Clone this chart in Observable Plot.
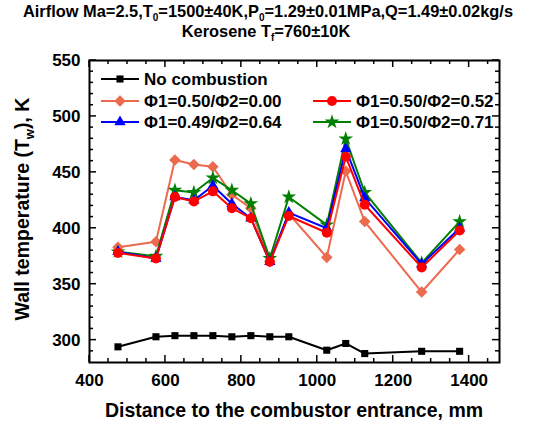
<!DOCTYPE html>
<html><head><meta charset="utf-8">
<script src="https://cdn.jsdelivr.net/npm/d3@7"></script>
<script src="https://cdn.jsdelivr.net/npm/@observablehq/plot@0.6"></script>
<style>
body{margin:0;background:#fff}
#chart svg text{font-family:"Liberation Sans",Arial,sans-serif;font-weight:bold}
</style>
</head><body><div id="chart"></div>
<script>
const distance = [475, 575, 625, 675, 725, 775, 825, 875, 925, 1025, 1075, 1125, 1275, 1375];
const noCombustion = [294, 303, 304, 304, 304, 303, 304, 303, 303, 291, 297, 288, 290, 290];
const phi050_000 = [383, 388, 461, 457, 455, 430, 418, 370, 413, 374, 451, 406, 343, 381];
const phi050_052 = [378, 373, 428, 424, 433, 418, 409, 370, 411, 396, 464, 421, 365, 398];
const phi049_064 = [379, 373, 428, 425, 438, 422, 409, 370, 414, 400, 471, 427, 368, 400];
const phi050_071 = [379, 375, 434, 432, 445, 434, 422, 373, 428, 403, 480, 432, 369, 406];
const seriesNames = ["No combustion", "Φ1=0.50/Φ2=0.00", "Φ1=0.50/Φ2=0.52", "Φ1=0.49/Φ2=0.64", "Φ1=0.50/Φ2=0.71"];
const seriesValues = [noCombustion, phi050_000, phi050_052, phi049_064, phi050_071];
const seriesColors = ["#000000", "#EC6A4E", "#FF0000", "#0000FF", "#008000"];
const seriesSymbols = ["square", "diamond2", "circle", "triangle", "star"];
const seriesR = [4, 5.2, 5, 4.2, 4.6];
const drawOrder = [0, 1, 4, 3, 2];
const xTicks = [400, 600, 800, 1000, 1200, 1400];
const xMinorTicks = d3.range(450, 1480, 50).filter(v => v % 200 !== 0);
const yTicks = [300, 350, 400, 450, 500, 550];
const yMinorTicks = d3.range(290, 550, 10).filter(v => v % 50 !== 0);

const W = 550, H = 424;
const mT = 60, mB = 62, mL = 89, mR = 51;

const marks = [];
for (const i of drawOrder) {
  const rows = distance.map((d, j) => ({x: d, y: seriesValues[i][j]}));
  marks.push(Plot.line(rows, {x: "x", y: "y", stroke: seriesColors[i], strokeWidth: 2}));
  marks.push(Plot.dot(rows, {x: "x", y: "y", symbol: seriesSymbols[i], fill: seriesColors[i], r: seriesR[i], stroke: "none"}));
}
marks.push(
  Plot.axisX(xTicks, {tickSize: 0, tickPadding: 11, label: null, tickFormat: d => String(d), fontSize: 17}),
  Plot.axisY(yTicks, {tickSize: 0, tickPadding: 9, label: null, tickFormat: d => String(d), fontSize: 17}),
  Plot.frame({stroke: "#000", strokeWidth: 2})
);

const svg = Plot.plot({
  width: W, height: H,
  marginTop: mT, marginBottom: mB, marginLeft: mL, marginRight: mR,
  x: {domain: [400, 1480]},
  y: {domain: [280, 550]},
  style: {fontFamily: "Liberation Sans, Arial, sans-serif", fontWeight: "bold", fontSize: "17px", color: "#000", background: "#fff"},
  marks
});

const s = d3.select(svg);
const xs = svg.scale("x"), ys = svg.scale("y");
const fTop = mT, fBottom = H - mB, fLeft = mL, fRight = W - mR;

// inward ticks on all four sides, positioned via Plot's scales
const MJ = 7, MN = 4;
const tg = s.append("g").attr("stroke", "#000").attr("stroke-width", 1.5);
for (const [vals, len] of [[xTicks, MJ], [xMinorTicks, MN]]) {
  for (const v of vals) {
    const px = xs.apply(v);
    tg.append("line").attr("x1", px).attr("x2", px).attr("y1", fBottom).attr("y2", fBottom - len);
    tg.append("line").attr("x1", px).attr("x2", px).attr("y1", fTop).attr("y2", fTop + len);
  }
}
for (const [vals, len] of [[yTicks, MJ], [yMinorTicks, MN]]) {
  for (const v of vals) {
    const py = ys.apply(v);
    tg.append("line").attr("y1", py).attr("y2", py).attr("x1", fLeft).attr("x2", fLeft + len);
    tg.append("line").attr("y1", py).attr("y2", py).attr("x1", fRight).attr("x2", fRight - len);
  }
}

// title
const t1 = s.append("text").attr("x", 268).attr("y", 17).attr("text-anchor", "middle").attr("font-size", 16.4).attr("fill", "#000");
t1.append("tspan").text("Airflow Ma=2.5,T");
t1.append("tspan").text("0").attr("font-size", 10).attr("dy", 4);
t1.append("tspan").text("=1500±40K,P").attr("dy", -4);
t1.append("tspan").text("0").attr("font-size", 10).attr("dy", 4);
t1.append("tspan").text("=1.29±0.01MPa,Q=1.49±0.02kg/s").attr("dy", -4);
const t2 = s.append("text").attr("x", 266).attr("y", 37).attr("text-anchor", "middle").attr("font-size", 16.4).attr("fill", "#000");
t2.append("tspan").text("Kerosene T");
t2.append("tspan").text("f").attr("font-size", 10).attr("dy", 4);
t2.append("tspan").text("=760±10K").attr("dy", -4);

// axis labels
s.append("text").attr("x", (fLeft + fRight) / 2).attr("y", 417).attr("text-anchor", "middle").attr("font-size", 19.5).attr("fill", "#000")
  .text("Distance to the combustor entrance, mm");
const yl = s.append("text").attr("transform", `translate(29,209) rotate(-90)`).attr("text-anchor", "middle").attr("font-size", 19.5).attr("fill", "#000");
yl.append("tspan").text("Wall temperature (T");
yl.append("tspan").text("w").attr("font-size", 13).attr("dy", 5);
yl.append("tspan").text("), K").attr("dy", -5);

// legend
const legendPos = [[101, 79], [101, 101], [313, 101], [101, 122], [313, 122]];
const symMap = {square: d3.symbolSquare, diamond2: d3.symbolDiamond2, circle: d3.symbolCircle, triangle: d3.symbolTriangle, star: d3.symbolStar};
const lg = s.append("g");
seriesNames.forEach((name, i) => {
  const [lx, ly] = legendPos[i];
  lg.append("line").attr("x1", lx).attr("x2", lx + 38).attr("y1", ly).attr("y2", ly).attr("stroke", seriesColors[i]).attr("stroke-width", 2);
  lg.append("path").attr("transform", `translate(${lx + 19},${ly})`).attr("fill", seriesColors[i])
    .attr("d", d3.symbol(symMap[seriesSymbols[i]], Math.PI * seriesR[i] * seriesR[i])());
  lg.append("text").attr("x", lx + 43).attr("y", ly).attr("dy", "0.36em").attr("text-anchor", "start").attr("font-size", 17).attr("fill", "#000").text(name);
});

document.getElementById("chart").appendChild(svg);
</script>
</body></html>
